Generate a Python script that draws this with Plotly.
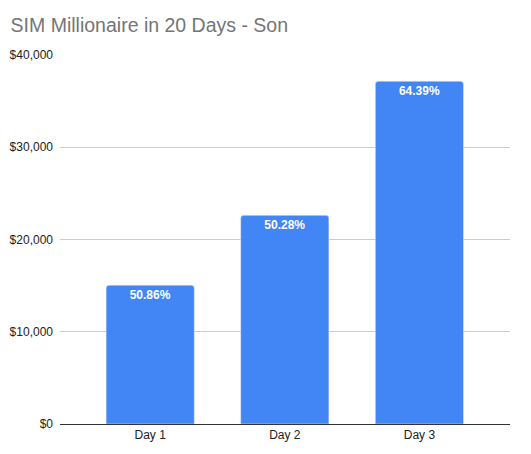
import plotly.graph_objects as go

days = ["Day 1", "Day 2", "Day 3"]
balance = [15050, 22620, 37150]
pct_labels = ["50.86%", "50.28%", "64.39%"]

bars = go.Bar(
    x=days,
    y=balance,
    text=pct_labels,
    textposition="inside",
    insidetextanchor="end",
    textangle=0,
    texttemplate="<b>%{text}</b>",
    textfont=dict(family="Liberation Sans, Arial", size=12, color="white"),
    marker=dict(color="#4285f4", cornerradius=3),
    hoverinfo="x+y",
)

# the page has an 8px body margin, so the figure is a bit smaller than the window
layout = go.Layout(
    width=523,
    height=446,
    margin=dict(l=52, r=21, t=47, b=30),
    paper_bgcolor="white",
    plot_bgcolor="white",
    font=dict(family="Liberation Sans, Arial", size=12, color="#222222"),
    title=dict(
        text="SIM Millionaire in 20 Days - Son",
        x=0.005,
        xanchor="left",
        y=0.962,
        yanchor="middle",
        font=dict(family="Liberation Sans, Arial", size=19.5, color="#757575"),
    ),
    bargap=0.345,
    showlegend=False,
    xaxis=dict(
        range=[-0.67, 2.673],
        showgrid=False,
        showline=True,
        linecolor="#333333",
        linewidth=1,
        ticks="",
        automargin=False,
        tickfont=dict(size=12, color="#222222"),
    ),
    yaxis=dict(
        range=[0, 40000],
        dtick=10000,
        tickprefix="$",
        tickformat=",d",
        showgrid=True,
        gridcolor="#cccccc",
        zeroline=False,
        ticks="",
        automargin=False,
        ticklabelstandoff=6,
        tickfont=dict(size=12, color="#222222"),
    ),
)

fig = go.Figure(data=[bars], layout=layout)
fig.write_html("out.html")
